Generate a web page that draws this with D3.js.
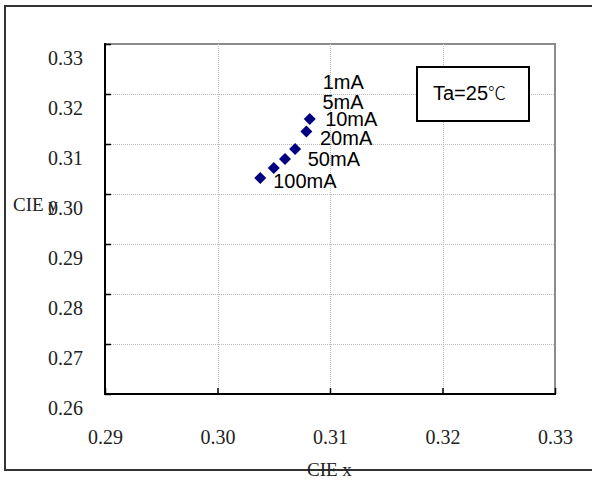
<!DOCTYPE html>
<html><head><meta charset="utf-8">
<script src="https://cdn.jsdelivr.net/npm/d3@7"></script>
<style>
body{margin:0;background:#fff}
svg{display:block}
</style>
</head><body>
<svg id="chart" width="592" height="480"></svg>
<script>
// Chromaticity shift of the LED with drive current
const currents = ["1mA", "5mA", "10mA", "20mA", "50mA", "100mA"];
const cieX = [0.3082, 0.3079, 0.3069, 0.3060, 0.3050, 0.3038];
const cieY = [0.3150, 0.3125, 0.3090, 0.3070, 0.3052, 0.3032];
// label offsets from each marker (pixels)
const labelDx = [13, 16, 30, 35, 34, 13];
const labelDy = [-30, -23, -23, -14, -2, 10];
const xTicks = [0.29, 0.30, 0.31, 0.32, 0.33];
const yTicks = [0.26, 0.27, 0.28, 0.29, 0.30, 0.31, 0.32, 0.33];

const svg = d3.select("#chart");
const plot = {left: 105, top: 44, right: 555, bottom: 394};

const x = d3.scaleLinear().domain([0.29, 0.33]).range([plot.left, plot.right]);
const y = d3.scaleLinear().domain([0.26, 0.33]).range([plot.bottom, plot.top]);

// outer frame
svg.append("rect")
  .attr("x", 5).attr("y", 6).attr("width", 590).attr("height", 464)
  .attr("fill", "#fff").attr("stroke", "#333").attr("stroke-width", 2);

// plot area border (top/right lighter)
svg.append("rect")
  .attr("x", plot.left).attr("y", plot.top)
  .attr("width", plot.right - plot.left).attr("height", plot.bottom - plot.top)
  .attr("fill", "#fff").attr("stroke", "#8c8c8c").attr("stroke-width", 2);

// gridlines
const grid = svg.append("g").attr("stroke", "#bdbdbd").attr("stroke-width", 1)
  .attr("stroke-dasharray", "1,1");
grid.selectAll("line.h").data(yTicks.filter(t => t > 0.26 && t < 0.33)).join("line")
  .attr("class", "h")
  .attr("x1", plot.left).attr("x2", plot.right)
  .attr("y1", d => Math.round(y(d)) + 0.5).attr("y2", d => Math.round(y(d)) + 0.5);
grid.selectAll("line.v").data(xTicks.filter(t => t > 0.29 && t < 0.33)).join("line")
  .attr("class", "v")
  .attr("y1", plot.top).attr("y2", plot.bottom)
  .attr("x1", d => Math.round(x(d)) + 0.5).attr("x2", d => Math.round(x(d)) + 0.5);

// axes with inward ticks
const fmt = d3.format(".2f");
const xAxis = svg.append("g").attr("transform", `translate(0,${plot.bottom})`)
  .call(d3.axisBottom(x).tickValues(xTicks).tickSize(-6).tickFormat(fmt).tickPadding(36));
const yAxis = svg.append("g").attr("transform", `translate(${plot.left},0)`)
  .call(d3.axisLeft(y).tickValues(yTicks).tickSize(-6).tickFormat(fmt).tickPadding(22));

[xAxis, yAxis].forEach(a => {
  a.select(".domain").remove();
  a.selectAll(".tick line").attr("stroke", "#000").attr("stroke-width", 1.5);
  a.selectAll(".tick text")
    .attr("fill", "#222")
    .style("font-family", "'Liberation Serif','DejaVu Serif',serif")
    .style("font-size", "20px");
});
yAxis.selectAll(".tick text").attr("dy", "1.0em");

// black axis lines on left and bottom
svg.append("line").attr("x1", plot.left).attr("x2", plot.left)
  .attr("y1", plot.top - 1).attr("y2", plot.bottom + 1)
  .attr("stroke", "#000").attr("stroke-width", 2);
svg.append("line").attr("x1", plot.left - 1).attr("x2", plot.right + 1)
  .attr("y1", plot.bottom).attr("y2", plot.bottom)
  .attr("stroke", "#000").attr("stroke-width", 2);

// axis titles
svg.append("text").attr("x", 307).attr("y", 476)
  .style("font-family", "'Liberation Serif','DejaVu Serif',serif")
  .style("font-size", "19px").attr("fill", "#222").text("CIE x");
svg.append("text").attr("x", 13).attr("y", 211)
  .style("font-family", "'Liberation Serif','DejaVu Serif',serif")
  .style("font-size", "19px").attr("fill", "#222").text("CIE y");

// data points
const pts = currents.map((c, i) => ({c, x: cieX[i], y: cieY[i], dx: labelDx[i], dy: labelDy[i]}));
svg.append("g").selectAll("path").data(pts).join("path")
  .attr("d", d3.symbol(d3.symbolSquare, 72))
  .attr("transform", d => `translate(${x(d.x)},${y(d.y)}) rotate(45)`)
  .attr("fill", "#000080");

svg.append("g").selectAll("text").data(pts).join("text")
  .attr("x", d => x(d.x) + d.dx).attr("y", d => y(d.y) + d.dy)
  .style("font-family", "'Liberation Sans',Arial,sans-serif")
  .style("font-size", "20px").attr("fill", "#000")
  .text(d => d.c);

// temperature note
svg.append("rect").attr("x", 417).attr("y", 67).attr("width", 112).attr("height", 54)
  .attr("fill", "#fff").attr("stroke", "#000").attr("stroke-width", 2);
const note = svg.append("text").attr("x", 433).attr("y", 100)
  .style("font-family", "'Liberation Sans',Arial,sans-serif")
  .style("font-size", "20px").attr("fill", "#000");
note.append("tspan").text("Ta=25");
note.append("tspan").style("font-family", "'Noto Sans CJK TC','Noto Sans CJK SC',sans-serif")
  .style("font-size", "18px").style("font-weight", "300").text("℃");
</script>
</body></html>
